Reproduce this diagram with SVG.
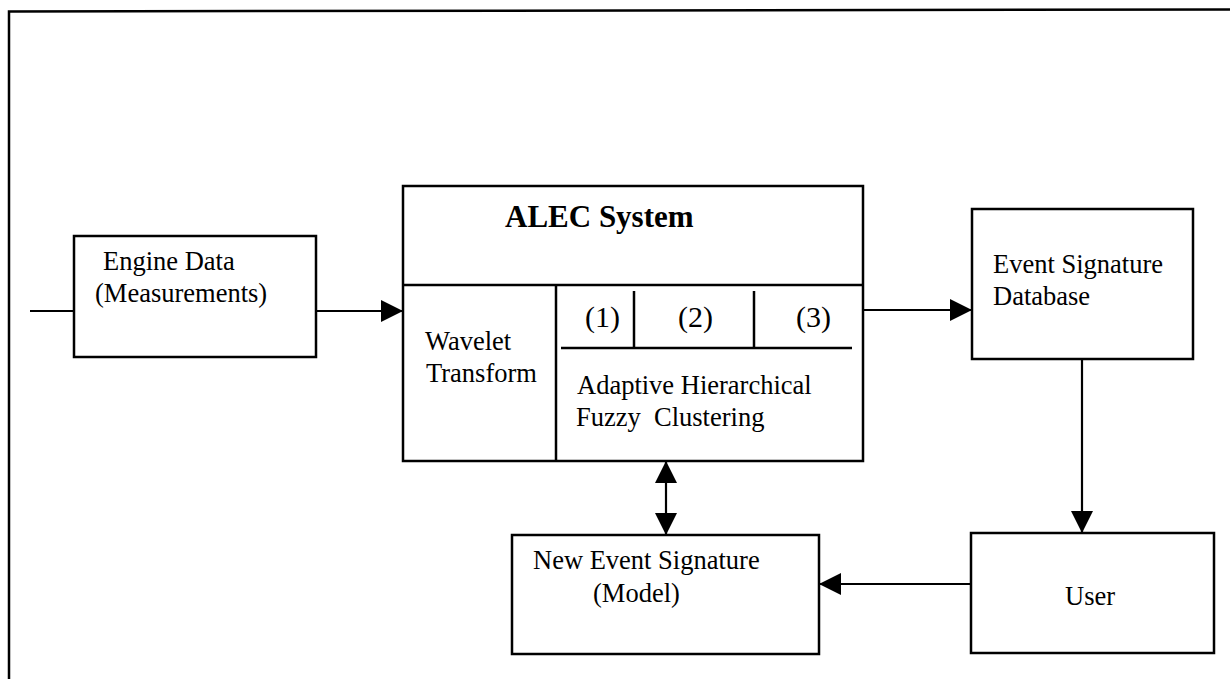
<svg xmlns="http://www.w3.org/2000/svg" width="1230" height="679" viewBox="0 0 1230 679">
  <style>
    .box { fill: #fff; stroke: #000; stroke-width: 2.5; }
    .rule { fill: none; stroke: #000; stroke-width: 2.5; }
    .wire { fill: none; stroke: #000; stroke-width: 2.2; }
    text { font-family: "Liberation Serif", "Times New Roman", serif; font-size: 26.5px; fill: #000; }
    .title { font-weight: bold; font-size: 31px; }
    .num { font-size: 30px; }
  </style>
  <defs>
    <marker id="head" viewBox="0 0 22 22" refX="22" refY="11" markerWidth="22" markerHeight="22" markerUnits="userSpaceOnUse" orient="auto-start-reverse">
      <path d="M0,0 L22,11 L0,22 Z" fill="#000"/>
    </marker>
  </defs>
  <rect width="1230" height="679" fill="#fff"/>

  <!-- page frame (top and left edges) -->
  <path class="rule" d="M9,679 L9,11.5 L1230,9.5"/>

  <!-- connectors -->
  <g id="connectors">
    <line class="wire" x1="30" y1="311" x2="74" y2="311"/>
    <line class="wire" x1="316" y1="311" x2="403" y2="311" marker-end="url(#head)"/>
    <line class="wire" x1="863" y1="310" x2="972" y2="310" marker-end="url(#head)"/>
    <line class="wire" x1="1082" y1="359" x2="1082" y2="533" marker-end="url(#head)"/>
    <line class="wire" x1="971" y1="584" x2="819" y2="584" marker-end="url(#head)"/>
    <line class="wire" x1="666" y1="461" x2="666" y2="535" marker-start="url(#head)" marker-end="url(#head)"/>
  </g>

  <g id="engine-data">
    <rect class="box" x="74" y="236" width="242" height="121"/>
    <text x="103" y="270">Engine Data</text>
    <text x="95" y="302">(Measurements)</text>
  </g>

  <g id="alec-system">
    <rect class="box" x="403" y="186" width="460" height="275"/>
    <line class="rule" x1="403" y1="285" x2="863" y2="285"/>
    <line class="rule" x1="556" y1="285" x2="556" y2="461"/>
    <line class="rule" x1="634" y1="291" x2="634" y2="348"/>
    <line class="rule" x1="754" y1="291" x2="754" y2="348"/>
    <line class="rule" x1="561" y1="348" x2="852" y2="348"/>
    <text class="title" x="505" y="227">ALEC System</text>
    <text class="num" x="585" y="327">(1)</text>
    <text class="num" x="678" y="327">(2)</text>
    <text class="num" x="796" y="327">(3)</text>
    <text x="425" y="350">Wavelet</text>
    <text x="426" y="382">Transform</text>
    <text x="577" y="394">Adaptive Hierarchical</text>
    <text x="576" y="426" xml:space="preserve" style="white-space:pre">Fuzzy  Clustering</text>
  </g>

  <g id="event-signature-database">
    <rect class="box" x="972" y="209" width="221" height="150"/>
    <text x="993" y="273">Event Signature</text>
    <text x="993" y="305">Database</text>
  </g>

  <g id="user">
    <rect class="box" x="971" y="533" width="243" height="120"/>
    <text x="1065" y="605">User</text>
  </g>

  <g id="new-event-signature">
    <rect class="box" x="512" y="535" width="307" height="119"/>
    <text x="533" y="569">New Event Signature</text>
    <text x="593" y="602">(Model)</text>
  </g>
</svg>
